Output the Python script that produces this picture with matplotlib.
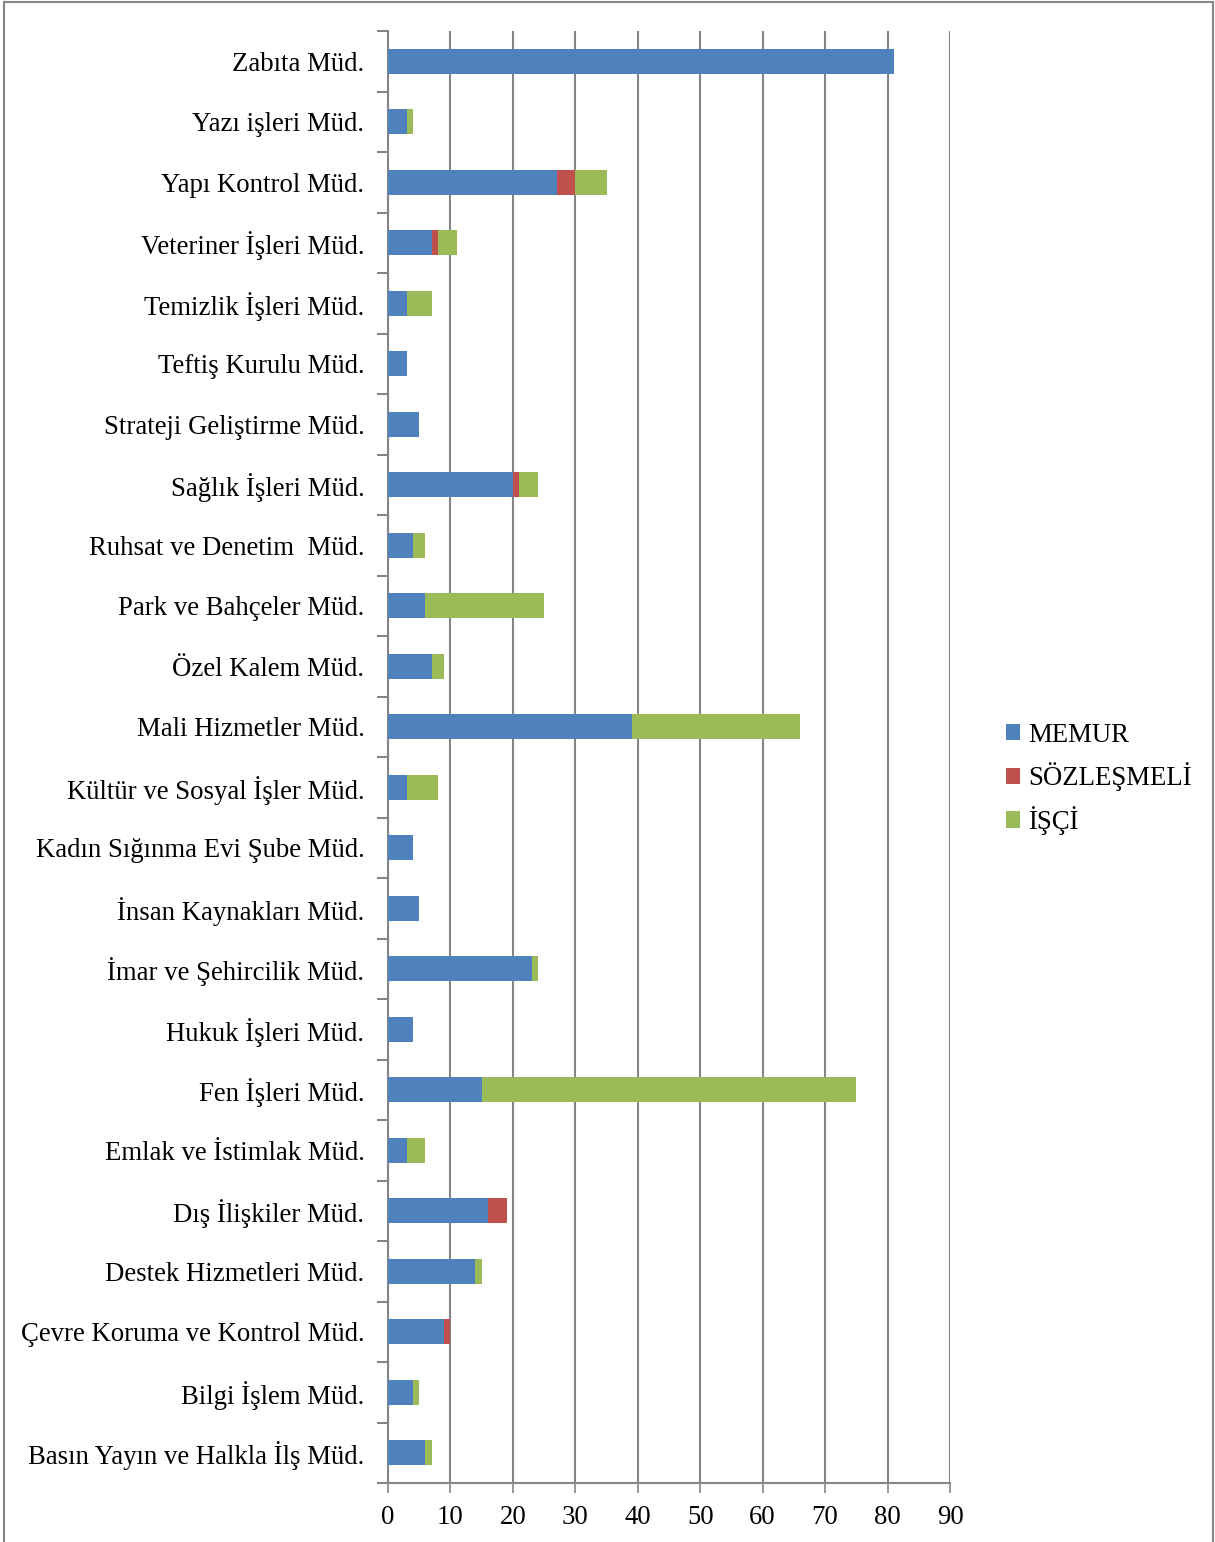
import numpy as np
import matplotlib.pyplot as plt
from matplotlib.patches import Rectangle

plt.rcParams['font.family'] = ['Liberation Serif', 'DejaVu Serif']

# Data (top to bottom as in the chart)
departments = [
    "Zabıta Müd.", "Yazı işleri Müd.", "Yapı Kontrol Müd.", "Veteriner İşleri Müd.",
    "Temizlik İşleri Müd.", "Teftiş Kurulu Müd.", "Strateji Geliştirme Müd.",
    "Sağlık İşleri Müd.", "Ruhsat ve Denetim  Müd.", "Park ve Bahçeler Müd.",
    "Özel Kalem Müd.", "Mali Hizmetler Müd.", "Kültür ve Sosyal İşler Müd.",
    "Kadın Sığınma Evi Şube Müd.", "İnsan Kaynakları Müd.", "İmar ve Şehircilik Müd.",
    "Hukuk İşleri Müd.", "Fen İşleri Müd.", "Emlak ve İstimlak Müd.",
    "Dış İlişkiler Müd.", "Destek Hizmetleri Müd.", "Çevre Koruma ve Kontrol Müd.",
    "Bilgi İşlem Müd.", "Basın Yayın ve Halkla İlş Müd.",
]
memur =      [81, 3, 27, 7, 3, 3, 5, 20, 4, 6, 7, 39, 3, 4, 5, 23, 4, 15, 3, 16, 14, 9, 4, 6]
sozlesmeli = [0, 0, 3, 1, 0, 0, 0, 1, 0, 0, 0, 0, 0, 0, 0, 0, 0, 0, 0, 3, 0, 1, 0, 0]
isci =       [0, 1, 5, 3, 4, 0, 0, 3, 2, 19, 2, 27, 5, 0, 0, 1, 0, 60, 3, 0, 1, 0, 1, 1]
series_names = ["MEMUR", "SÖZLEŞMELİ", "İŞÇİ"]
colors = ["#4F81BD", "#C0504D", "#9BBB59"]

fig = plt.figure(figsize=(12.15, 15.42), dpi=100)
ax = fig.add_axes([388 / 1215, 1 - 1483 / 1542, (950 - 388) / 1215, (1483 - 31) / 1542])

y = np.arange(len(departments))
left = np.zeros(len(departments))
for vals, name, c in zip([memur, sozlesmeli, isci], series_names, colors):
    vals = np.array(vals, dtype=float)
    ax.barh(y, vals, left=left, height=0.41, color=c, label=name, zorder=3)
    left += vals

ax.set_ylim(len(departments) - 0.5, -0.5)
ax.set_xlim(0, 90)
ax.set_xticks(np.arange(0, 91, 10))
ax.set_yticks(y)
ax.set_yticklabels(departments, fontsize=19.3)
ax.set_yticks(np.arange(-0.5, len(departments), 1), minor=True)
ax.tick_params(axis='y', which='major', length=0, pad=17)
ax.tick_params(axis='y', which='minor', length=8, width=1.5, color='#868686', direction='out')
ax.tick_params(axis='x', length=7, width=1.2, color='#868686', labelsize=19.3, pad=9)

ax.grid(axis='x', color='#868686', linewidth=1.5, zorder=0)
for s in ['top', 'right']:
    ax.spines[s].set_visible(False)
for s in ['left', 'bottom']:
    ax.spines[s].set_color('#868686')
    ax.spines[s].set_linewidth(1.5)

ax.legend(loc='center left', bbox_to_anchor=(1.08, 0.485), frameon=False, fontsize=19.3,
          handlelength=0.55, handleheight=0.55, handletextpad=0.3, labelspacing=0.55,
          borderaxespad=0.0)

# outer frame of the chart area
fig.patches.append(Rectangle((4 / 1215, -0.05), (1213 - 4) / 1215, 1.05 - 2 / 1542,
                             transform=fig.transFigure, fill=False,
                             edgecolor='#868686', linewidth=1.5))

fig.savefig("out.png", dpi=100)
